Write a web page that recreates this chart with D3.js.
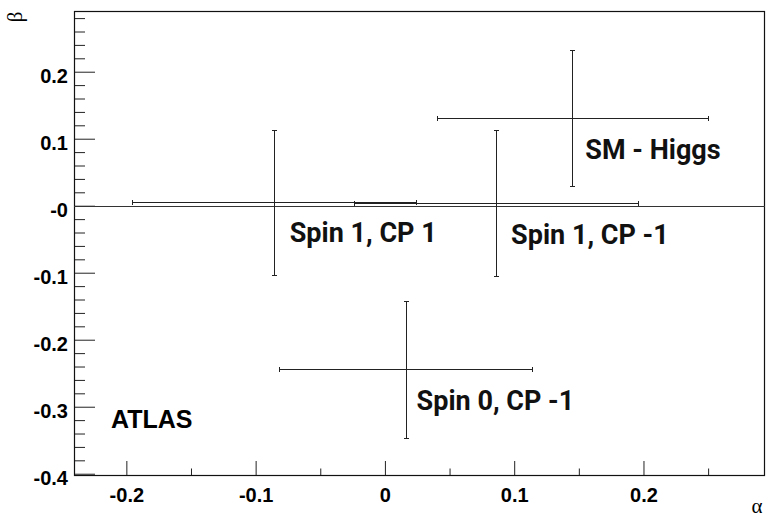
<!DOCTYPE html>
<html>
<head>
<meta charset="utf-8">
<script src="https://cdn.jsdelivr.net/npm/d3@7"></script>
<style>
  html, body { margin: 0; padding: 0; background: #fff; }
  svg { display: block; }
</style>
</head>
<body>
<svg id="chart" width="767" height="519"></svg>
<script>
// ---- data ----
const names    = ["SM - Higgs", "Spin 1, CP 1", "Spin 1, CP -1", "Spin 0, CP -1"];
const alpha    = [0.145, -0.086, 0.086, 0.016];
const alphaErr = [0.105, 0.110, 0.110, 0.098];
const beta     = [0.131, 0.005, 0.004, -0.244];
const betaErr  = [0.101, 0.108, 0.109, 0.102];

const xMajorTicks  = [-0.2, -0.1, 0, 0.1, 0.2];
const xTickLabels  = ["-0.2", "-0.1", "0", "0.1", "0.2"];
const yMajorTicks  = [-0.4, -0.3, -0.2, -0.1, 0, 0.1, 0.2];
const yTickLabels  = ["-0.4", "-0.3", "-0.2", "-0.1", "-0", "0.1", "0.2"];
const xTitle = "α";
const yTitle = "β";
const experiment = "ATLAS";

// ---- layout ----
const W = 767, H = 519;
const frame = { left: 74, top: 11, right: 765, bottom: 476 };
const xDomain = [-0.2405, 0.294];
const yDomain = [-0.4034, 0.2906];
const labelOffset = [ {dx: 13, dy: 41}, {dx: 16, dy: 40}, {dx: 15, dy: 41}, {dx: 11, dy: 41} ];

const svg = d3.select("#chart");
svg.append("rect").attr("width", W).attr("height", H).attr("fill", "#fff");

const x = d3.scaleLinear().domain(xDomain).range([frame.left, frame.right]);
const y = d3.scaleLinear().domain(yDomain).range([frame.bottom, frame.top]);

// minor ticks
const xMinor = d3.range(-0.25, 0.30, 0.05).map(v => +v.toFixed(3))
  .filter(v => v > xDomain[0] && v < xDomain[1] && !xMajorTicks.some(m => Math.abs(m - v) < 1e-6));
const yMinor = d3.range(-0.40, 0.30, 0.02).map(v => +v.toFixed(3))
  .filter(v => v > yDomain[0] && v < yDomain[1] && !yMajorTicks.some(m => Math.abs(m - v) < 1e-6));

const tickFont = "'Liberation Sans', Arial, Helvetica, sans-serif";

// x axis
const gx = svg.append("g").attr("transform", `translate(0,${frame.bottom})`);
gx.call(d3.axisBottom(x).tickValues(xMajorTicks).tickSize(-15).tickPadding(12)
  .tickFormat((d, i) => xTickLabels[i]));
const gxm = svg.append("g").attr("transform", `translate(0,${frame.bottom})`);
gxm.call(d3.axisBottom(x).tickValues(xMinor).tickSize(-7.5).tickFormat(""));

// y axis
const gy = svg.append("g").attr("transform", `translate(${frame.left},0)`);
gy.call(d3.axisLeft(y).tickValues(yMajorTicks).tickSize(-21).tickPadding(6)
  .tickFormat((d, i) => yTickLabels[i]));
const gym = svg.append("g").attr("transform", `translate(${frame.left},0)`);
gym.call(d3.axisLeft(y).tickValues(yMinor).tickSize(-11).tickFormat(""));

[gx, gxm, gy, gym].forEach(g => {
  g.select(".domain").remove();
  g.selectAll(".tick line").attr("stroke", "#222").attr("stroke-width", 1);
  g.selectAll("text").attr("fill", "#000").style("font-family", tickFont)
    .style("font-weight", "bold").style("font-size", "20px");
});
gy.selectAll("text").attr("dy", "0.53em");

// frame
svg.append("rect")
  .attr("x", frame.left + 0.5).attr("y", frame.top + 0.5)
  .attr("width", frame.right - frame.left - 1).attr("height", frame.bottom - frame.top - 1)
  .attr("fill", "none").attr("stroke", "#111").attr("stroke-width", 1.2);

// zero line
svg.append("line")
  .attr("x1", frame.left).attr("x2", frame.right)
  .attr("y1", Math.round(y(0)) + 0.5).attr("y2", Math.round(y(0)) + 0.5)
  .attr("stroke", "#333").attr("stroke-width", 1);

// error crosses
const pts = names.map((n, i) => ({ name: n, a: alpha[i], ae: alphaErr[i], b: beta[i], be: betaErr[i], off: labelOffset[i] }));
const cap = 2.5;
const g = svg.append("g").attr("stroke", "#222").attr("stroke-width", 1).attr("fill", "none");
pts.forEach(p => {
  const cx = Math.round(x(p.a)) + 0.5, cy = Math.round(y(p.b)) + 0.5;
  const x0 = Math.round(x(p.a - p.ae)) + 0.5, x1 = Math.round(x(p.a + p.ae)) + 0.5;
  const y0 = Math.round(y(p.b + p.be)) + 0.5, y1 = Math.round(y(p.b - p.be)) + 0.5;
  g.append("line").attr("x1", x0).attr("x2", x1).attr("y1", cy).attr("y2", cy);
  g.append("line").attr("x1", cx).attr("x2", cx).attr("y1", y0).attr("y2", y1);
  g.append("line").attr("x1", x0).attr("x2", x0).attr("y1", cy - cap).attr("y2", cy + cap);
  g.append("line").attr("x1", x1).attr("x2", x1).attr("y1", cy - cap).attr("y2", cy + cap);
  g.append("line").attr("x1", cx - cap).attr("x2", cx + cap).attr("y1", y0).attr("y2", y0);
  g.append("line").attr("x1", cx - cap).attr("x2", cx + cap).attr("y1", y1).attr("y2", y1);
});

// labels
svg.append("g").selectAll("text").data(pts).join("text")
  .attr("x", p => x(p.a) + p.off.dx)
  .attr("y", p => y(p.b) + p.off.dy)
  .attr("fill", "#111")
  .style("font-family", "Roboto, 'Noto Sans', sans-serif")
  .style("font-weight", "bold").style("font-size", "27px")
  .text(p => p.name);

// ATLAS
svg.append("text").attr("x", 111).attr("y", 428)
  .style("font-family", tickFont).style("font-weight", "bold").style("font-size", "25px")
  .attr("fill", "#000").text(experiment);

// axis titles
svg.append("text").attr("x", W - 10).attr("y", 513).attr("text-anchor", "middle")
  .style("font-family", "'Liberation Serif', 'Times New Roman', serif").style("font-size", "21px")
  .attr("fill", "#000").text(xTitle);
svg.append("text").attr("transform", "translate(22,17) rotate(-90)").attr("text-anchor", "middle")
  .style("font-family", "'Liberation Serif', 'Times New Roman', serif").style("font-size", "21px")
  .attr("fill", "#000").text(yTitle);
</script>
</body>
</html>
